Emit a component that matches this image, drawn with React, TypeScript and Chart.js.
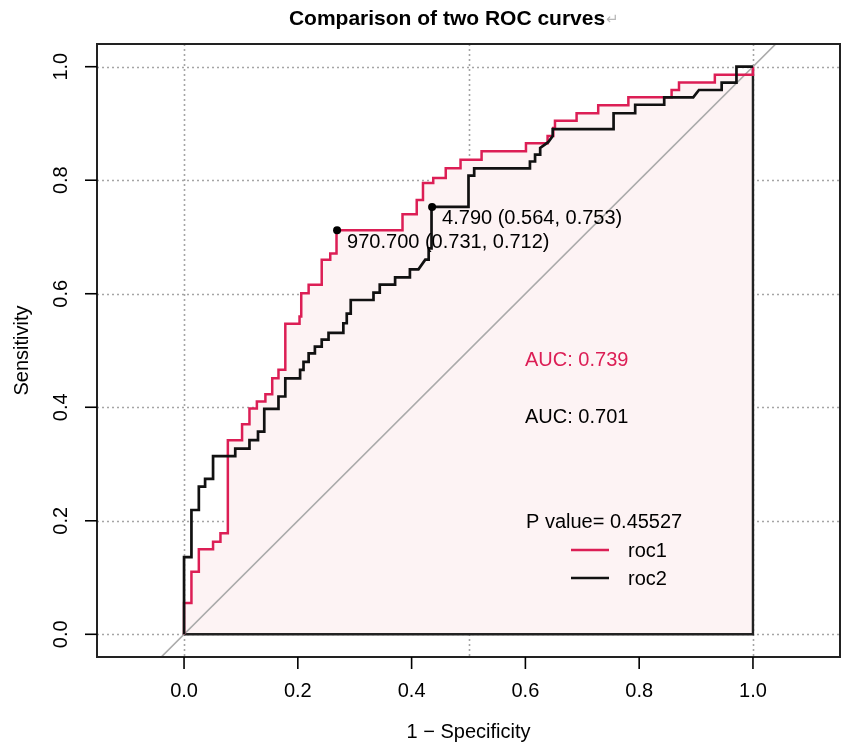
import { useEffect, useRef } from "react";
import { Chart, registerables } from "chart.js";

Chart.register(...registerables);

const chartTitle = "Comparison of two ROC curves";
const titleMark = "↵";
const xAxisTitle = "1 − Specificity";
const yAxisTitle = "Sensitivity";
const xTickValues = [0, 0.2, 0.4, 0.6, 0.8, 1.0];
const yTickValues = [0, 0.2, 0.4, 0.6, 0.8, 1.0];
const xGridValues = [0, 0.5, 1.0];
const yGridValues = [0, 0.2, 0.4, 0.6, 0.8, 1.0];

// roc1 (red) step curve: 1 - specificity, sensitivity
const roc1X = [0, 0, 0.013, 0.013, 0.026, 0.026, 0.051, 0.051, 0.064, 0.064, 0.077, 0.077, 0.102, 0.102, 0.115, 0.115, 0.128, 0.128, 0.143, 0.143, 0.155, 0.155, 0.166, 0.166, 0.178, 0.178, 0.203, 0.203, 0.206, 0.206, 0.219, 0.219, 0.242, 0.242, 0.257, 0.257, 0.268, 0.268, 0.384, 0.384, 0.409, 0.409, 0.42, 0.42, 0.438, 0.438, 0.46, 0.46, 0.486, 0.486, 0.523, 0.523, 0.601, 0.601, 0.639, 0.639, 0.649, 0.649, 0.652, 0.652, 0.69, 0.69, 0.728, 0.728, 0.781, 0.781, 0.857, 0.857, 0.87, 0.87, 0.933, 0.933, 1.0, 1.0];
const roc1Y = [0, 0.055, 0.055, 0.11, 0.11, 0.15, 0.15, 0.163, 0.163, 0.178, 0.178, 0.342, 0.342, 0.37, 0.37, 0.398, 0.398, 0.41, 0.41, 0.423, 0.423, 0.451, 0.451, 0.466, 0.466, 0.547, 0.547, 0.56, 0.56, 0.601, 0.601, 0.616, 0.616, 0.66, 0.66, 0.671, 0.671, 0.712, 0.712, 0.74, 0.74, 0.765, 0.765, 0.795, 0.795, 0.804, 0.804, 0.821, 0.821, 0.836, 0.836, 0.851, 0.851, 0.865, 0.865, 0.878, 0.878, 0.892, 0.892, 0.905, 0.905, 0.918, 0.918, 0.932, 0.932, 0.946, 0.946, 0.959, 0.959, 0.972, 0.972, 0.986, 0.986, 1.0];

// roc2 (black) step curve
const roc2X = [0, 0, 0.013, 0.013, 0.026, 0.026, 0.037, 0.037, 0.051, 0.051, 0.09, 0.09, 0.115, 0.115, 0.13, 0.13, 0.141, 0.141, 0.166, 0.166, 0.178, 0.178, 0.204, 0.204, 0.21, 0.21, 0.219, 0.219, 0.23, 0.23, 0.242, 0.242, 0.254, 0.254, 0.28, 0.28, 0.286, 0.286, 0.293, 0.293, 0.333, 0.333, 0.344, 0.344, 0.371, 0.371, 0.397, 0.397, 0.412, 0.424, 0.43, 0.43, 0.435, 0.435, 0.5, 0.5, 0.51, 0.51, 0.608, 0.608, 0.617, 0.617, 0.626, 0.626, 0.64, 0.648, 0.648, 0.755, 0.755, 0.793, 0.793, 0.844, 0.844, 0.895, 0.905, 0.945, 0.945, 0.971, 0.971, 1.0];
const roc2Y = [0, 0.136, 0.136, 0.219, 0.219, 0.26, 0.26, 0.274, 0.274, 0.314, 0.314, 0.327, 0.327, 0.342, 0.342, 0.357, 0.357, 0.397, 0.397, 0.419, 0.419, 0.451, 0.451, 0.466, 0.466, 0.48, 0.48, 0.495, 0.495, 0.507, 0.507, 0.519, 0.519, 0.531, 0.531, 0.548, 0.548, 0.565, 0.565, 0.589, 0.589, 0.602, 0.602, 0.616, 0.616, 0.629, 0.629, 0.643, 0.643, 0.66, 0.66, 0.68, 0.68, 0.753, 0.753, 0.808, 0.808, 0.821, 0.821, 0.833, 0.833, 0.845, 0.845, 0.857, 0.867, 0.878, 0.89, 0.89, 0.918, 0.918, 0.933, 0.933, 0.946, 0.946, 0.959, 0.959, 0.972, 0.972, 1.0, 1.0];

// best thresholds
const thresholdX = [0.269, 0.436];
const thresholdY = [0.712, 0.753];
const thresholdLabels = ["970.700 (0.731, 0.712)", "4.790 (0.564, 0.753)"];

const seriesNames = ["roc1", "roc2"];
const aucLabels = ["AUC: 0.739", "AUC: 0.701"];
const pValueLabel = "P value= 0.45527";

const RED = "#DC1E55";
const BLACK = "#111111";
const FILL = "#FDF3F4";
const FONT = "'Liberation Sans', Arial, Helvetica, sans-serif";

const toPts = (xs: number[], ys: number[]) => xs.map((x, i) => ({ x, y: ys[i] }));

export default function App() {
  const canvasRef = useRef<HTMLCanvasElement | null>(null);

  useEffect(() => {
    const canvas = canvasRef.current;
    if (!canvas) return;

    const roc1 = toPts(roc1X, roc1Y);
    const roc2 = toPts(roc2X, roc2Y);
    const last = roc1.length - 1;
    const polygonEdge = [
      { x: roc1X[last], y: roc1Y[last] },
      { x: roc1X[last], y: 0 },
      { x: roc1X[0], y: 0 },
    ];

    const rocPlugin = {
      id: "rocDecor",
      beforeDatasetsDraw(chart: any) {
        const { ctx, chartArea: a, scales } = chart;
        const xs = scales.x;
        const ys = scales.y;
        ctx.save();
        ctx.strokeStyle = "#a5a5a5";
        ctx.lineWidth = 1.6;
        ctx.setLineDash([2, 3]);
        for (const v of xGridValues) {
          const px = Math.round(xs.getPixelForValue(v)) + 0.5;
          ctx.beginPath();
          ctx.moveTo(px, a.top);
          ctx.lineTo(px, a.bottom);
          ctx.stroke();
        }
        for (const v of yGridValues) {
          const py = Math.round(ys.getPixelForValue(v)) + 0.5;
          ctx.beginPath();
          ctx.moveTo(a.left, py);
          ctx.lineTo(a.right, py);
          ctx.stroke();
        }
        ctx.restore();
      },
      afterDatasetsDraw(chart: any) {
        const { ctx, chartArea: a, scales } = chart;
        const xs = scales.x;
        const ys = scales.y;
        ctx.save();
        // box
        ctx.strokeStyle = "#222";
        ctx.lineWidth = 2;
        ctx.strokeRect(a.left, a.top, a.right - a.left, a.bottom - a.top);

        // ticks
        ctx.lineWidth = 1.6;
        ctx.strokeStyle = "#000";
        ctx.fillStyle = "#000";
        ctx.font = `20px ${FONT}`;
        ctx.textAlign = "center";
        ctx.textBaseline = "middle";
        for (const v of xTickValues) {
          const px = xs.getPixelForValue(v);
          ctx.beginPath();
          ctx.moveTo(px, a.bottom);
          ctx.lineTo(px, a.bottom + 12);
          ctx.stroke();
          ctx.fillText(v.toFixed(1), px, a.bottom + 34);
        }
        for (const v of yTickValues) {
          const py = ys.getPixelForValue(v);
          ctx.beginPath();
          ctx.moveTo(a.left, py);
          ctx.lineTo(a.left - 12, py);
          ctx.stroke();
          ctx.save();
          ctx.translate(a.left - 36, py);
          ctx.rotate(-Math.PI / 2);
          ctx.fillText(v.toFixed(1), 0, 0);
          ctx.restore();
        }
        // axis titles
        const cx = (a.left + a.right) / 2;
        const cy = (a.top + a.bottom) / 2;
        ctx.fillText(xAxisTitle, cx, a.bottom + 75);
        ctx.save();
        ctx.translate(a.left - 75, cy);
        ctx.rotate(-Math.PI / 2);
        ctx.fillText(yAxisTitle, 0, 0);
        ctx.restore();

        // threshold labels
        ctx.textAlign = "left";
        thresholdLabels.forEach((t, i) => {
          const px = xs.getPixelForValue(thresholdX[i]);
          const py = ys.getPixelForValue(thresholdY[i]);
          ctx.fillText(t, px + 10, py + 12);
        });

        // AUC texts
        const tx = 525;
        ctx.fillStyle = RED;
        ctx.fillText(aucLabels[0], tx, 360);
        ctx.fillStyle = "#000";
        ctx.fillText(aucLabels[1], tx, 417);
        ctx.fillText(pValueLabel, tx + 1, 522);

        // legend
        const colors = [RED, BLACK];
        const legY = [550, 578];
        seriesNames.forEach((n, i) => {
          ctx.strokeStyle = colors[i];
          ctx.lineWidth = 2.5;
          ctx.beginPath();
          ctx.moveTo(571, legY[i]);
          ctx.lineTo(609, legY[i]);
          ctx.stroke();
          ctx.fillStyle = "#000";
          ctx.fillText(n, 628, legY[i] + 1);
        });

        // title
        ctx.font = `bold 21px ${FONT}`;
        ctx.fillStyle = "#000";
        ctx.textAlign = "left";
        const w = ctx.measureText(chartTitle).width;
        const left = 447 - w / 2;
        ctx.fillText(chartTitle, left, 19);
        ctx.font = `15px 'DejaVu Sans', sans-serif`;
        ctx.fillStyle = "#b8b8b8";
        ctx.fillText(titleMark, left + w + 1, 20);
        ctx.restore();
      },
    };

    const chart = new Chart(canvas, {
      type: "line",
      data: {
        datasets: [
          {
            label: "thresholds",
            data: toPts(thresholdX, thresholdY),
            showLine: false,
            pointRadius: 4,
            pointBackgroundColor: "#000",
            pointBorderColor: "#000",
            pointBorderWidth: 0,
            order: 0,
          },
          {
            label: seriesNames[1],
            data: roc2,
            borderColor: BLACK,
            borderWidth: 2.7,
            pointRadius: 0,
            fill: false,
            order: 1,
          },
          {
            label: seriesNames[0],
            data: roc1,
            borderColor: RED,
            borderWidth: 2.5,
            pointRadius: 0,
            fill: false,
            order: 2,
          },
          {
            label: "identity",
            data: [
              { x: -2, y: -2 },
              { x: 3, y: 3 },
            ],
            borderColor: "#aaaaaa",
            borderWidth: 1.6,
            pointRadius: 0,
            fill: false,
            clip: 0,
            order: 3,
          },
          {
            label: "polygonEdge",
            data: polygonEdge,
            borderColor: "#222",
            borderWidth: 2.4,
            pointRadius: 0,
            fill: false,
            order: 4,
          },
          {
            label: "aucPolygon",
            data: roc1,
            borderColor: "transparent",
            borderWidth: 0,
            backgroundColor: FILL,
            pointRadius: 0,
            fill: "origin",
            order: 5,
          },
        ],
      },
      options: {
        animation: false,
        responsive: true,
        maintainAspectRatio: false,
        events: [],
        layout: { padding: { left: 97, right: 11, top: 44, bottom: 91 } },
        plugins: {
          legend: { display: false },
          tooltip: { enabled: false },
          title: { display: false },
        },
        scales: {
          x: { type: "linear", min: -0.153, max: 1.153, display: false },
          y: { type: "linear", min: -0.04, max: 1.04, display: false },
        },
      },
      plugins: [rocPlugin],
    });

    return () => chart.destroy();
  }, []);

  return (
    <div style={{ position: "absolute", left: 0, top: 0, width: 851, height: 748, background: "#fff" }}>
      <canvas ref={canvasRef} />
    </div>
  );
}
